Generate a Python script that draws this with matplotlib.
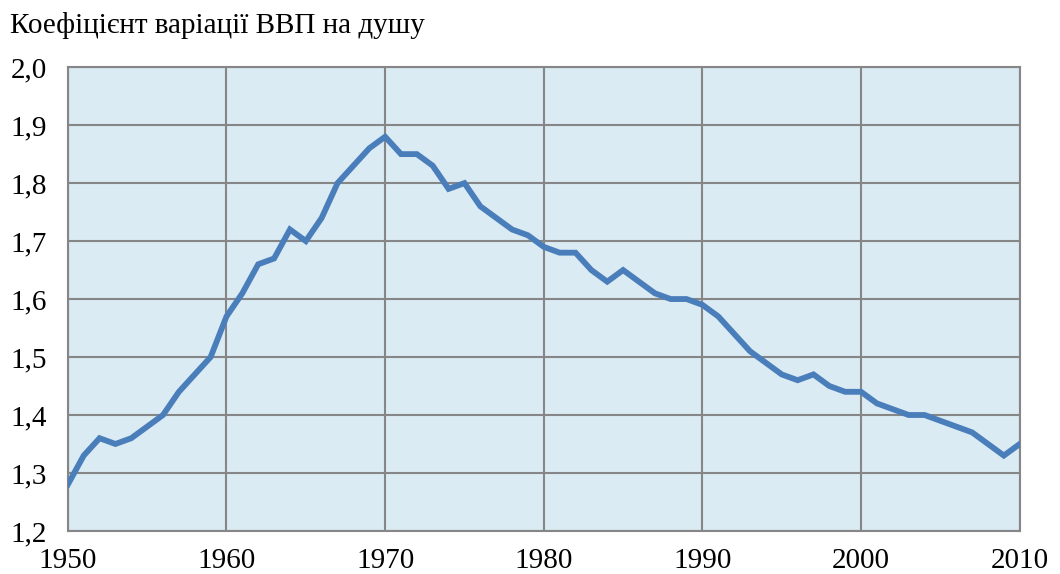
import matplotlib
matplotlib.use("Agg")
import matplotlib.pyplot as plt

years = list(range(1950, 2011))
cv = [1.28, 1.33, 1.36, 1.35, 1.36, 1.38, 1.40, 1.44, 1.47, 1.50,
      1.57, 1.61, 1.66, 1.67, 1.72, 1.70, 1.74, 1.80, 1.83, 1.86,
      1.88, 1.85, 1.85, 1.83, 1.79, 1.80, 1.76, 1.74, 1.72, 1.71,
      1.69, 1.68, 1.68, 1.65, 1.63, 1.65, 1.63, 1.61, 1.60, 1.60,
      1.59, 1.57, 1.54, 1.51, 1.49, 1.47, 1.46, 1.47, 1.45, 1.44,
      1.44, 1.42, 1.41, 1.40, 1.40, 1.39, 1.38, 1.37, 1.35, 1.33,
      1.35]
xticks = [1950, 1960, 1970, 1980, 1990, 2000, 2010]
yticks = [1.2, 1.3, 1.4, 1.5, 1.6, 1.7, 1.8, 1.9, 2.0]
ylabels = ["1,2", "1,3", "1,4", "1,5", "1,6", "1,7", "1,8", "1,9", "2,0"]
title = "Коефіцієнт варіації ВВП на душу"

plt.rcParams['font.family'] = ['Liberation Serif', 'DejaVu Serif']
fig = plt.figure(figsize=(10.6, 5.74), dpi=100)
ax = fig.add_axes([0.064, 0.075, 0.898, 0.808])
ax.set_facecolor('#DAEBF3')
ax.plot(years, cv, color='#4A7EBB', lw=4.2, solid_joinstyle='miter', zorder=3)
ax.set_xlim(1950, 2010)
ax.set_ylim(1.2, 2.0)
ax.set_xticks(xticks)
ax.set_xticklabels([str(x) for x in xticks])
ax.set_yticks(yticks)
ax.set_yticklabels(ylabels)
ax.grid(True, color='#868686', lw=1.5, zorder=1)
for s in ax.spines.values():
    s.set_color('#868686')
    s.set_linewidth(1.5)
ax.tick_params(length=0, labelsize=21)
ax.tick_params(axis='x', pad=12.5)
ax.tick_params(axis='y', pad=15)
fig.text(0.009, 0.956, title, fontsize=21, va='center', ha='left')
fig.savefig('out.png', dpi=100)
